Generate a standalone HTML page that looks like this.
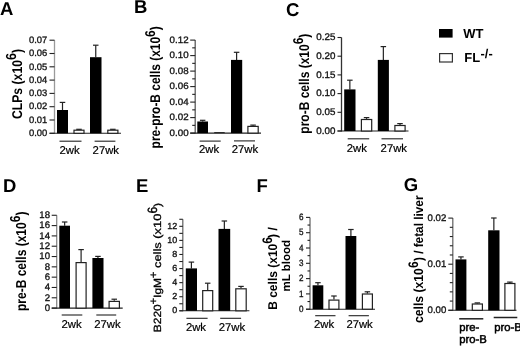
<!DOCTYPE html>
<html><head><meta charset="utf-8"><style>
html,body{margin:0;padding:0;background:#fff;}
svg{display:block;font-family:"Liberation Sans", sans-serif;font-kerning:none;will-change:transform;text-rendering:geometricPrecision;}
</style></head><body>
<svg width="520" height="346" viewBox="0 0 520 346">
<rect x="0" y="0" width="520" height="346" fill="#fff"/>
<text x="0.0" y="15.4" font-size="18.5" font-weight="700" text-anchor="start" fill="#000" >A</text>
<text x="133.9" y="12.7" font-size="18.5" font-weight="700" text-anchor="start" fill="#000" >B</text>
<text x="285.9" y="15.6" font-size="18.5" font-weight="700" text-anchor="start" fill="#000" >C</text>
<text x="3.0" y="192.1" font-size="18.5" font-weight="700" text-anchor="start" fill="#000" >D</text>
<text x="136.1" y="192.3" font-size="18.5" font-weight="700" text-anchor="start" fill="#000" >E</text>
<text x="256.5" y="192.3" font-size="18.5" font-weight="700" text-anchor="start" fill="#000" >F</text>
<text x="403.8" y="190.8" font-size="18.5" font-weight="700" text-anchor="start" fill="#000" >G</text>
<line x1="54.5" y1="40.2" x2="54.5" y2="133.8" stroke="#9a9a9a" stroke-width="1.3"/>
<line x1="49.5" y1="133.3" x2="121" y2="133.3" stroke="#222" stroke-width="1.1"/>
<line x1="49.5" y1="133.3" x2="54.5" y2="133.3" stroke="#222" stroke-width="1.1"/>
<text transform="translate(47.3,136.01) scale(1.0,1)" x="0" y="0" font-size="9.4" text-anchor="end" fill="#111" stroke="#111" stroke-width="0.32">0.00</text>
<line x1="49.5" y1="120.00000000000001" x2="54.5" y2="120.00000000000001" stroke="#222" stroke-width="1.1"/>
<text transform="translate(47.3,122.71) scale(1.0,1)" x="0" y="0" font-size="9.4" text-anchor="end" fill="#111" stroke="#111" stroke-width="0.32">0.01</text>
<line x1="49.5" y1="106.70000000000002" x2="54.5" y2="106.70000000000002" stroke="#222" stroke-width="1.1"/>
<text transform="translate(47.3,109.41) scale(1.0,1)" x="0" y="0" font-size="9.4" text-anchor="end" fill="#111" stroke="#111" stroke-width="0.32">0.02</text>
<line x1="49.5" y1="93.4" x2="54.5" y2="93.4" stroke="#222" stroke-width="1.1"/>
<text transform="translate(47.3,96.11) scale(1.0,1)" x="0" y="0" font-size="9.4" text-anchor="end" fill="#111" stroke="#111" stroke-width="0.32">0.03</text>
<line x1="49.5" y1="80.10000000000001" x2="54.5" y2="80.10000000000001" stroke="#222" stroke-width="1.1"/>
<text transform="translate(47.3,82.81) scale(1.0,1)" x="0" y="0" font-size="9.4" text-anchor="end" fill="#111" stroke="#111" stroke-width="0.32">0.04</text>
<line x1="49.5" y1="66.80000000000001" x2="54.5" y2="66.80000000000001" stroke="#222" stroke-width="1.1"/>
<text transform="translate(47.3,69.51) scale(1.0,1)" x="0" y="0" font-size="9.4" text-anchor="end" fill="#111" stroke="#111" stroke-width="0.32">0.05</text>
<line x1="49.5" y1="53.500000000000014" x2="54.5" y2="53.500000000000014" stroke="#222" stroke-width="1.1"/>
<text transform="translate(47.3,56.21) scale(1.0,1)" x="0" y="0" font-size="9.4" text-anchor="end" fill="#111" stroke="#111" stroke-width="0.32">0.06</text>
<line x1="49.5" y1="40.2" x2="54.5" y2="40.2" stroke="#222" stroke-width="1.1"/>
<text transform="translate(47.3,42.91) scale(1.0,1)" x="0" y="0" font-size="9.4" text-anchor="end" fill="#111" stroke="#111" stroke-width="0.32">0.07</text>
<line x1="62.5" y1="102.4" x2="62.5" y2="110" stroke="#222" stroke-width="1.2"/>
<line x1="59.75" y1="102.4" x2="65.25" y2="102.4" stroke="#222" stroke-width="1.2"/>
<rect x="57" y="110" width="11" height="23.30000000000001" fill="#000" stroke="none" stroke-width="0"/>
<line x1="79.0" y1="129.3" x2="79.0" y2="129.6" stroke="#222" stroke-width="1.2"/>
<line x1="76.25" y1="129.3" x2="81.75" y2="129.3" stroke="#222" stroke-width="1.2"/>
<rect x="74.0" y="130.2" width="9.99999999999999" height="3.100000000000017" fill="#fff" stroke="#222" stroke-width="1.2"/>
<line x1="95.75" y1="45.2" x2="95.75" y2="57.2" stroke="#222" stroke-width="1.2"/>
<line x1="93.0" y1="45.2" x2="98.5" y2="45.2" stroke="#222" stroke-width="1.2"/>
<rect x="90" y="57.2" width="11.5" height="76.10000000000001" fill="#000" stroke="none" stroke-width="0"/>
<line x1="112.85" y1="129.3" x2="112.85" y2="129.6" stroke="#222" stroke-width="1.2"/>
<line x1="110.1" y1="129.3" x2="115.6" y2="129.3" stroke="#222" stroke-width="1.2"/>
<rect x="107.8" y="130.2" width="10.099999999999998" height="3.100000000000017" fill="#fff" stroke="#222" stroke-width="1.2"/>
<line x1="59.5" y1="141.2" x2="81.5" y2="141.2" stroke="#222" stroke-width="1.1"/>
<text x="59.5" y="153.8" font-size="11.3" font-weight="400" text-anchor="start" fill="#000" stroke="#000" stroke-width="0.2">2wk</text>
<line x1="94.6" y1="141.2" x2="115.4" y2="141.2" stroke="#222" stroke-width="1.1"/>
<text x="92.6" y="153.8" font-size="11.3" font-weight="400" text-anchor="start" fill="#000" stroke="#000" stroke-width="0.2">27wk</text>
<text transform="translate(21.8,119.0) rotate(-90) scale(1,1.16)" x="0" y="0" font-size="12.2" font-weight="700" fill="#000">CLPs (x10<tspan dy="-5.0" font-size="12.5">6</tspan><tspan dy="5.0">)</tspan></text>
<line x1="195.2" y1="40.099999999999994" x2="195.2" y2="133.6" stroke="#5a5a5a" stroke-width="1.3"/>
<line x1="190.2" y1="133.1" x2="261" y2="133.1" stroke="#222" stroke-width="1.1"/>
<line x1="190.2" y1="133.1" x2="195.2" y2="133.1" stroke="#222" stroke-width="1.1"/>
<text transform="translate(188.6,135.81) scale(1.04,1)" x="0" y="0" font-size="9.4" text-anchor="end" fill="#111" stroke="#111" stroke-width="0.32">0.00</text>
<line x1="190.2" y1="117.6" x2="195.2" y2="117.6" stroke="#222" stroke-width="1.1"/>
<text transform="translate(188.6,120.31) scale(1.04,1)" x="0" y="0" font-size="9.4" text-anchor="end" fill="#111" stroke="#111" stroke-width="0.32">0.02</text>
<line x1="190.2" y1="102.1" x2="195.2" y2="102.1" stroke="#222" stroke-width="1.1"/>
<text transform="translate(188.6,104.81) scale(1.04,1)" x="0" y="0" font-size="9.4" text-anchor="end" fill="#111" stroke="#111" stroke-width="0.32">0.04</text>
<line x1="190.2" y1="86.6" x2="195.2" y2="86.6" stroke="#222" stroke-width="1.1"/>
<text transform="translate(188.6,89.31) scale(1.04,1)" x="0" y="0" font-size="9.4" text-anchor="end" fill="#111" stroke="#111" stroke-width="0.32">0.06</text>
<line x1="190.2" y1="71.1" x2="195.2" y2="71.1" stroke="#222" stroke-width="1.1"/>
<text transform="translate(188.6,73.81) scale(1.04,1)" x="0" y="0" font-size="9.4" text-anchor="end" fill="#111" stroke="#111" stroke-width="0.32">0.08</text>
<line x1="190.2" y1="55.599999999999994" x2="195.2" y2="55.599999999999994" stroke="#222" stroke-width="1.1"/>
<text transform="translate(188.6,58.31) scale(1.04,1)" x="0" y="0" font-size="9.4" text-anchor="end" fill="#111" stroke="#111" stroke-width="0.32">0.10</text>
<line x1="190.2" y1="40.099999999999994" x2="195.2" y2="40.099999999999994" stroke="#222" stroke-width="1.1"/>
<text transform="translate(188.6,42.81) scale(1.04,1)" x="0" y="0" font-size="9.4" text-anchor="end" fill="#111" stroke="#111" stroke-width="0.32">0.12</text>
<line x1="192.2" y1="125.35" x2="195.2" y2="125.35" stroke="#222" stroke-width="1.1"/>
<line x1="192.2" y1="109.85" x2="195.2" y2="109.85" stroke="#222" stroke-width="1.1"/>
<line x1="192.2" y1="94.35" x2="195.2" y2="94.35" stroke="#222" stroke-width="1.1"/>
<line x1="192.2" y1="78.85" x2="195.2" y2="78.85" stroke="#222" stroke-width="1.1"/>
<line x1="192.2" y1="63.349999999999994" x2="195.2" y2="63.349999999999994" stroke="#222" stroke-width="1.1"/>
<line x1="192.2" y1="47.849999999999994" x2="195.2" y2="47.849999999999994" stroke="#222" stroke-width="1.1"/>
<line x1="202.65" y1="120.3" x2="202.65" y2="121.5" stroke="#222" stroke-width="1.2"/>
<line x1="199.9" y1="120.3" x2="205.4" y2="120.3" stroke="#222" stroke-width="1.2"/>
<rect x="197.3" y="121.5" width="10.699999999999989" height="11.599999999999994" fill="#000" stroke="none" stroke-width="0"/>
<rect x="214.2" y="132.3" width="10.5" height="0.799999999999983" fill="#000" stroke="none" stroke-width="0"/>
<line x1="236.6" y1="52.3" x2="236.6" y2="59.9" stroke="#222" stroke-width="1.2"/>
<line x1="233.85" y1="52.3" x2="239.35" y2="52.3" stroke="#222" stroke-width="1.2"/>
<rect x="231" y="59.9" width="11.199999999999989" height="73.19999999999999" fill="#000" stroke="none" stroke-width="0"/>
<line x1="253.05" y1="125.1" x2="253.05" y2="125.8" stroke="#222" stroke-width="1.2"/>
<line x1="250.3" y1="125.1" x2="255.8" y2="125.1" stroke="#222" stroke-width="1.2"/>
<rect x="247.9" y="126.39999999999999" width="10.3" height="6.6999999999999975" fill="#fff" stroke="#222" stroke-width="1.2"/>
<line x1="199.6" y1="141.1" x2="220.7" y2="141.1" stroke="#222" stroke-width="1.1"/>
<text x="199.0" y="153.4" font-size="11.3" font-weight="400" text-anchor="start" fill="#000" stroke="#000" stroke-width="0.2">2wk</text>
<line x1="234" y1="140.9" x2="255" y2="140.9" stroke="#222" stroke-width="1.1"/>
<text x="231.8" y="153.4" font-size="11.3" font-weight="400" text-anchor="start" fill="#000" stroke="#000" stroke-width="0.2">27wk</text>
<text transform="translate(160.4,148.4) rotate(-90) scale(1,1.18)" x="0" y="0" font-size="11.95" font-weight="700" fill="#000">pre-pro-B cells (x10<tspan dy="-5.0" font-size="12">6</tspan><tspan dy="5.0">)</tspan></text>
<line x1="341.5" y1="37.5" x2="341.5" y2="131.5" stroke="#333" stroke-width="1.3"/>
<line x1="337.5" y1="131.0" x2="408.5" y2="131.0" stroke="#222" stroke-width="1.1"/>
<line x1="337.5" y1="131.0" x2="341.5" y2="131.0" stroke="#222" stroke-width="1.1"/>
<text transform="translate(335.4,133.78) scale(1.02,1)" x="0" y="0" font-size="9.6" text-anchor="end" fill="#111" stroke="#111" stroke-width="0.32">0.00</text>
<line x1="337.5" y1="112.3" x2="341.5" y2="112.3" stroke="#222" stroke-width="1.1"/>
<text transform="translate(335.4,115.08) scale(1.02,1)" x="0" y="0" font-size="9.6" text-anchor="end" fill="#111" stroke="#111" stroke-width="0.32">0.05</text>
<line x1="337.5" y1="93.6" x2="341.5" y2="93.6" stroke="#222" stroke-width="1.1"/>
<text transform="translate(335.4,96.38) scale(1.02,1)" x="0" y="0" font-size="9.6" text-anchor="end" fill="#111" stroke="#111" stroke-width="0.32">0.10</text>
<line x1="337.5" y1="74.89999999999999" x2="341.5" y2="74.89999999999999" stroke="#222" stroke-width="1.1"/>
<text transform="translate(335.4,77.68) scale(1.02,1)" x="0" y="0" font-size="9.6" text-anchor="end" fill="#111" stroke="#111" stroke-width="0.32">0.15</text>
<line x1="337.5" y1="56.2" x2="341.5" y2="56.2" stroke="#222" stroke-width="1.1"/>
<text transform="translate(335.4,58.98) scale(1.02,1)" x="0" y="0" font-size="9.6" text-anchor="end" fill="#111" stroke="#111" stroke-width="0.32">0.20</text>
<line x1="337.5" y1="37.5" x2="341.5" y2="37.5" stroke="#222" stroke-width="1.1"/>
<text transform="translate(335.4,40.28) scale(1.02,1)" x="0" y="0" font-size="9.6" text-anchor="end" fill="#111" stroke="#111" stroke-width="0.32">0.25</text>
<line x1="349.85" y1="80.2" x2="349.85" y2="89.4" stroke="#222" stroke-width="1.2"/>
<line x1="347.1" y1="80.2" x2="352.6" y2="80.2" stroke="#222" stroke-width="1.2"/>
<rect x="344.2" y="89.4" width="11.300000000000011" height="41.599999999999994" fill="#000" stroke="none" stroke-width="0"/>
<line x1="366.55" y1="117.6" x2="366.55" y2="118.9" stroke="#222" stroke-width="1.2"/>
<line x1="363.8" y1="117.6" x2="369.3" y2="117.6" stroke="#222" stroke-width="1.2"/>
<rect x="361.40000000000003" y="119.5" width="10.3" height="11.499999999999995" fill="#fff" stroke="#222" stroke-width="1.2"/>
<line x1="383.35" y1="46.6" x2="383.35" y2="59.9" stroke="#222" stroke-width="1.2"/>
<line x1="380.6" y1="46.6" x2="386.1" y2="46.6" stroke="#222" stroke-width="1.2"/>
<rect x="377.8" y="59.9" width="11.099999999999966" height="71.1" fill="#000" stroke="none" stroke-width="0"/>
<line x1="400.0" y1="123.6" x2="400.0" y2="124.9" stroke="#222" stroke-width="1.2"/>
<line x1="397.25" y1="123.6" x2="402.75" y2="123.6" stroke="#222" stroke-width="1.2"/>
<rect x="394.90000000000003" y="125.5" width="10.199999999999978" height="5.499999999999995" fill="#fff" stroke="#222" stroke-width="1.2"/>
<line x1="347.7" y1="138.8" x2="369.2" y2="138.8" stroke="#222" stroke-width="1.1"/>
<text x="346.7" y="151.5" font-size="11.3" font-weight="400" text-anchor="start" fill="#000" stroke="#000" stroke-width="0.2">2wk</text>
<line x1="381.5" y1="138.8" x2="403" y2="138.8" stroke="#222" stroke-width="1.1"/>
<text x="380.6" y="151.5" font-size="11.3" font-weight="400" text-anchor="start" fill="#000" stroke="#000" stroke-width="0.2">27wk</text>
<text transform="translate(309.4,133.7) rotate(-90) scale(1,1.18)" x="0" y="0" font-size="12" font-weight="700" fill="#000">pro-B cells (x10<tspan dy="-5.0" font-size="12">6</tspan><tspan dy="5.0">)</tspan></text>
<line x1="56.7" y1="215.27400000000003" x2="56.7" y2="308.6" stroke="#888" stroke-width="1.3"/>
<line x1="51.7" y1="308.1" x2="122.7" y2="308.1" stroke="#222" stroke-width="1.1"/>
<line x1="51.7" y1="308.1" x2="56.7" y2="308.1" stroke="#222" stroke-width="1.1"/>
<text transform="translate(50.0,310.88) scale(1.0,1)" x="0" y="0" font-size="9.6" text-anchor="end" fill="#111" stroke="#111" stroke-width="0.32">0</text>
<line x1="51.7" y1="297.786" x2="56.7" y2="297.786" stroke="#222" stroke-width="1.1"/>
<text transform="translate(50.0,300.57) scale(1.0,1)" x="0" y="0" font-size="9.6" text-anchor="end" fill="#111" stroke="#111" stroke-width="0.32">2</text>
<line x1="51.7" y1="287.47200000000004" x2="56.7" y2="287.47200000000004" stroke="#222" stroke-width="1.1"/>
<text transform="translate(50.0,290.25) scale(1.0,1)" x="0" y="0" font-size="9.6" text-anchor="end" fill="#111" stroke="#111" stroke-width="0.32">4</text>
<line x1="51.7" y1="277.158" x2="56.7" y2="277.158" stroke="#222" stroke-width="1.1"/>
<text transform="translate(50.0,279.94) scale(1.0,1)" x="0" y="0" font-size="9.6" text-anchor="end" fill="#111" stroke="#111" stroke-width="0.32">6</text>
<line x1="51.7" y1="266.84400000000005" x2="56.7" y2="266.84400000000005" stroke="#222" stroke-width="1.1"/>
<text transform="translate(50.0,269.62) scale(1.0,1)" x="0" y="0" font-size="9.6" text-anchor="end" fill="#111" stroke="#111" stroke-width="0.32">8</text>
<line x1="51.7" y1="256.53000000000003" x2="56.7" y2="256.53000000000003" stroke="#222" stroke-width="1.1"/>
<text transform="translate(50.0,259.31) scale(1.0,1)" x="0" y="0" font-size="9.6" text-anchor="end" fill="#111" stroke="#111" stroke-width="0.32">10</text>
<line x1="51.7" y1="246.216" x2="56.7" y2="246.216" stroke="#222" stroke-width="1.1"/>
<text transform="translate(50.0,249.00) scale(1.0,1)" x="0" y="0" font-size="9.6" text-anchor="end" fill="#111" stroke="#111" stroke-width="0.32">12</text>
<line x1="51.7" y1="235.90200000000002" x2="56.7" y2="235.90200000000002" stroke="#222" stroke-width="1.1"/>
<text transform="translate(50.0,238.68) scale(1.0,1)" x="0" y="0" font-size="9.6" text-anchor="end" fill="#111" stroke="#111" stroke-width="0.32">14</text>
<line x1="51.7" y1="225.58800000000002" x2="56.7" y2="225.58800000000002" stroke="#222" stroke-width="1.1"/>
<text transform="translate(50.0,228.37) scale(1.0,1)" x="0" y="0" font-size="9.6" text-anchor="end" fill="#111" stroke="#111" stroke-width="0.32">16</text>
<line x1="51.7" y1="215.27400000000003" x2="56.7" y2="215.27400000000003" stroke="#222" stroke-width="1.1"/>
<text transform="translate(50.0,218.05) scale(1.0,1)" x="0" y="0" font-size="9.6" text-anchor="end" fill="#111" stroke="#111" stroke-width="0.32">18</text>
<line x1="64.65" y1="222" x2="64.65" y2="225.7" stroke="#222" stroke-width="1.2"/>
<line x1="61.900000000000006" y1="222" x2="67.4" y2="222" stroke="#222" stroke-width="1.2"/>
<rect x="59.3" y="225.7" width="10.700000000000003" height="82.40000000000003" fill="#000" stroke="none" stroke-width="0"/>
<line x1="81.1" y1="249.6" x2="81.1" y2="262" stroke="#222" stroke-width="1.2"/>
<line x1="78.35" y1="249.6" x2="83.85" y2="249.6" stroke="#222" stroke-width="1.2"/>
<rect x="76.1" y="262.6" width="10.000000000000004" height="45.50000000000002" fill="#fff" stroke="#222" stroke-width="1.2"/>
<line x1="97.95" y1="256.4" x2="97.95" y2="258" stroke="#222" stroke-width="1.2"/>
<line x1="95.2" y1="256.4" x2="100.7" y2="256.4" stroke="#222" stroke-width="1.2"/>
<rect x="92.4" y="258" width="11.099999999999994" height="50.10000000000002" fill="#000" stroke="none" stroke-width="0"/>
<line x1="114.25" y1="299.2" x2="114.25" y2="300.8" stroke="#222" stroke-width="1.2"/>
<line x1="111.5" y1="299.2" x2="117.0" y2="299.2" stroke="#222" stroke-width="1.2"/>
<rect x="109.1" y="301.40000000000003" width="10.3" height="6.700000000000012" fill="#fff" stroke="#222" stroke-width="1.2"/>
<line x1="61.7" y1="315" x2="82.3" y2="315" stroke="#222" stroke-width="1.1"/>
<text x="61.5" y="327.7" font-size="11.3" font-weight="400" text-anchor="start" fill="#000" stroke="#000" stroke-width="0.2">2wk</text>
<line x1="96.3" y1="315" x2="116.2" y2="315" stroke="#222" stroke-width="1.1"/>
<text x="94.2" y="327.7" font-size="11.3" font-weight="400" text-anchor="start" fill="#000" stroke="#000" stroke-width="0.2">27wk</text>
<text transform="translate(26.2,311.0) rotate(-90) scale(1,1.2)" x="0" y="0" font-size="12" font-weight="700" fill="#000">pre-B cells (x10<tspan dy="-5.0" font-size="12">6</tspan><tspan dy="5.0">)</tspan></text>
<line x1="182.8" y1="219.28000000000003" x2="182.8" y2="311.3" stroke="#6a6a6a" stroke-width="1.3"/>
<line x1="179.3" y1="310.8" x2="249.4" y2="310.8" stroke="#222" stroke-width="1.1"/>
<line x1="179.3" y1="310.8" x2="182.8" y2="310.8" stroke="#222" stroke-width="1.1"/>
<text transform="translate(177.2,313.30) scale(1.02,1)" x="0" y="0" font-size="8.8" text-anchor="end" fill="#111" stroke="#111" stroke-width="0.32">0</text>
<line x1="179.3" y1="296.72" x2="182.8" y2="296.72" stroke="#222" stroke-width="1.1"/>
<text transform="translate(177.2,299.22) scale(1.02,1)" x="0" y="0" font-size="8.8" text-anchor="end" fill="#111" stroke="#111" stroke-width="0.32">2</text>
<line x1="179.3" y1="282.64" x2="182.8" y2="282.64" stroke="#222" stroke-width="1.1"/>
<text transform="translate(177.2,285.14) scale(1.02,1)" x="0" y="0" font-size="8.8" text-anchor="end" fill="#111" stroke="#111" stroke-width="0.32">4</text>
<line x1="179.3" y1="268.56" x2="182.8" y2="268.56" stroke="#222" stroke-width="1.1"/>
<text transform="translate(177.2,271.06) scale(1.02,1)" x="0" y="0" font-size="8.8" text-anchor="end" fill="#111" stroke="#111" stroke-width="0.32">6</text>
<line x1="179.3" y1="254.48000000000002" x2="182.8" y2="254.48000000000002" stroke="#222" stroke-width="1.1"/>
<text transform="translate(177.2,256.98) scale(1.02,1)" x="0" y="0" font-size="8.8" text-anchor="end" fill="#111" stroke="#111" stroke-width="0.32">8</text>
<line x1="179.3" y1="240.4" x2="182.8" y2="240.4" stroke="#222" stroke-width="1.1"/>
<text transform="translate(177.2,242.90) scale(1.02,1)" x="0" y="0" font-size="8.8" text-anchor="end" fill="#111" stroke="#111" stroke-width="0.32">10</text>
<line x1="179.3" y1="226.32" x2="182.8" y2="226.32" stroke="#222" stroke-width="1.1"/>
<text transform="translate(177.2,228.82) scale(1.02,1)" x="0" y="0" font-size="8.8" text-anchor="end" fill="#111" stroke="#111" stroke-width="0.32">12</text>
<line x1="179.3" y1="303.76" x2="182.8" y2="303.76" stroke="#222" stroke-width="1.1"/>
<line x1="179.3" y1="289.68" x2="182.8" y2="289.68" stroke="#222" stroke-width="1.1"/>
<line x1="179.3" y1="275.6" x2="182.8" y2="275.6" stroke="#222" stroke-width="1.1"/>
<line x1="179.3" y1="261.52" x2="182.8" y2="261.52" stroke="#222" stroke-width="1.1"/>
<line x1="179.3" y1="247.44" x2="182.8" y2="247.44" stroke="#222" stroke-width="1.1"/>
<line x1="179.3" y1="233.36" x2="182.8" y2="233.36" stroke="#222" stroke-width="1.1"/>
<line x1="179.3" y1="219.28000000000003" x2="182.8" y2="219.28000000000003" stroke="#222" stroke-width="1.1"/>
<line x1="191.4" y1="262.1" x2="191.4" y2="268.4" stroke="#222" stroke-width="1.2"/>
<line x1="188.65" y1="262.1" x2="194.15" y2="262.1" stroke="#222" stroke-width="1.2"/>
<rect x="185.8" y="268.4" width="11.199999999999989" height="42.400000000000034" fill="#000" stroke="none" stroke-width="0"/>
<line x1="207.7" y1="283.2" x2="207.7" y2="290" stroke="#222" stroke-width="1.2"/>
<line x1="204.95" y1="283.2" x2="210.45" y2="283.2" stroke="#222" stroke-width="1.2"/>
<rect x="202.7" y="290.6" width="10.000000000000018" height="20.20000000000001" fill="#fff" stroke="#222" stroke-width="1.2"/>
<line x1="224.35" y1="221" x2="224.35" y2="228.9" stroke="#222" stroke-width="1.2"/>
<line x1="221.6" y1="221" x2="227.1" y2="221" stroke="#222" stroke-width="1.2"/>
<rect x="218.5" y="228.9" width="11.699999999999989" height="81.9" fill="#000" stroke="none" stroke-width="0"/>
<line x1="241.0" y1="286.4" x2="241.0" y2="288.2" stroke="#222" stroke-width="1.2"/>
<line x1="238.25" y1="286.4" x2="243.75" y2="286.4" stroke="#222" stroke-width="1.2"/>
<rect x="235.79999999999998" y="288.8" width="10.400000000000023" height="22.00000000000002" fill="#fff" stroke="#222" stroke-width="1.2"/>
<line x1="186.4" y1="318.3" x2="207.6" y2="318.3" stroke="#222" stroke-width="1.1"/>
<text x="185.9" y="331.2" font-size="11.3" font-weight="400" text-anchor="start" fill="#000" stroke="#000" stroke-width="0.2">2wk</text>
<line x1="220.2" y1="318.3" x2="241.1" y2="318.3" stroke="#222" stroke-width="1.1"/>
<text x="218.8" y="331.2" font-size="11.3" font-weight="400" text-anchor="start" fill="#000" stroke="#000" stroke-width="0.2">27wk</text>
<text transform="translate(161.30,332.30) rotate(-90) scale(1,0.87)" x="0" y="0" font-size="12.0" font-weight="400" fill="#000" stroke="#000" stroke-width="0.35">B220</text>
<text transform="translate(157.00,304.27) rotate(-90) scale(1,1.0)" x="0" y="0" font-size="11" font-weight="400" fill="#000" stroke="#000" stroke-width="0.35">+</text>
<text transform="translate(161.30,297.95) rotate(-90) scale(1,0.87)" x="0" y="0" font-size="12.0" font-weight="400" fill="#000" stroke="#000" stroke-width="0.35">IgM</text>
<text transform="translate(157.00,277.95) rotate(-90) scale(1,1.0)" x="0" y="0" font-size="11" font-weight="400" fill="#000" stroke="#000" stroke-width="0.35">+</text>
<text transform="translate(161.30,271.62) rotate(-90) scale(1,0.82)" x="0" y="0" font-size="12.9" font-weight="400" fill="#000" stroke="#000" stroke-width="0.35">&#160;cells&#160;(x10</text>
<text transform="translate(156.70,213.55) rotate(-90) scale(1,1.12)" x="0" y="0" font-size="12" font-weight="400" fill="#000" stroke="#000" stroke-width="0.35">6</text>
<text transform="translate(161.30,206.88) rotate(-90) scale(1,0.86)" x="0" y="0" font-size="12" font-weight="400" fill="#000" stroke="#000" stroke-width="0.35">)</text>
<line x1="310.0" y1="217.39999999999998" x2="310.0" y2="309.7" stroke="#6a6a6a" stroke-width="1.3"/>
<line x1="306.0" y1="309.2" x2="375" y2="309.2" stroke="#222" stroke-width="1.1"/>
<line x1="306.0" y1="309.2" x2="310.0" y2="309.2" stroke="#222" stroke-width="1.1"/>
<text transform="translate(303.6,311.84) scale(0.88,1)" x="0" y="0" font-size="9.2" text-anchor="end" fill="#111" stroke="#111" stroke-width="0.32">0</text>
<line x1="306.0" y1="293.9" x2="310.0" y2="293.9" stroke="#222" stroke-width="1.1"/>
<text transform="translate(303.6,296.54) scale(0.88,1)" x="0" y="0" font-size="9.2" text-anchor="end" fill="#111" stroke="#111" stroke-width="0.32">1</text>
<line x1="306.0" y1="278.59999999999997" x2="310.0" y2="278.59999999999997" stroke="#222" stroke-width="1.1"/>
<text transform="translate(303.6,281.24) scale(0.88,1)" x="0" y="0" font-size="9.2" text-anchor="end" fill="#111" stroke="#111" stroke-width="0.32">2</text>
<line x1="306.0" y1="263.29999999999995" x2="310.0" y2="263.29999999999995" stroke="#222" stroke-width="1.1"/>
<text transform="translate(303.6,265.94) scale(0.88,1)" x="0" y="0" font-size="9.2" text-anchor="end" fill="#111" stroke="#111" stroke-width="0.32">3</text>
<line x1="306.0" y1="248.0" x2="310.0" y2="248.0" stroke="#222" stroke-width="1.1"/>
<text transform="translate(303.6,250.64) scale(0.88,1)" x="0" y="0" font-size="9.2" text-anchor="end" fill="#111" stroke="#111" stroke-width="0.32">4</text>
<line x1="306.0" y1="232.7" x2="310.0" y2="232.7" stroke="#222" stroke-width="1.1"/>
<text transform="translate(303.6,235.34) scale(0.88,1)" x="0" y="0" font-size="9.2" text-anchor="end" fill="#111" stroke="#111" stroke-width="0.32">5</text>
<line x1="306.0" y1="217.39999999999998" x2="310.0" y2="217.39999999999998" stroke="#222" stroke-width="1.1"/>
<text transform="translate(303.6,220.04) scale(0.88,1)" x="0" y="0" font-size="9.2" text-anchor="end" fill="#111" stroke="#111" stroke-width="0.32">6</text>
<line x1="307.5" y1="301.55" x2="310.0" y2="301.55" stroke="#222" stroke-width="1.1"/>
<line x1="307.5" y1="286.25" x2="310.0" y2="286.25" stroke="#222" stroke-width="1.1"/>
<line x1="307.5" y1="270.95" x2="310.0" y2="270.95" stroke="#222" stroke-width="1.1"/>
<line x1="307.5" y1="255.64999999999998" x2="310.0" y2="255.64999999999998" stroke="#222" stroke-width="1.1"/>
<line x1="307.5" y1="240.34999999999997" x2="310.0" y2="240.34999999999997" stroke="#222" stroke-width="1.1"/>
<line x1="307.5" y1="225.04999999999998" x2="310.0" y2="225.04999999999998" stroke="#222" stroke-width="1.1"/>
<line x1="317.95000000000005" y1="282.7" x2="317.95000000000005" y2="285.3" stroke="#222" stroke-width="1.2"/>
<line x1="315.20000000000005" y1="282.7" x2="320.70000000000005" y2="282.7" stroke="#222" stroke-width="1.2"/>
<rect x="312.6" y="285.3" width="10.699999999999989" height="23.899999999999977" fill="#000" stroke="none" stroke-width="0"/>
<line x1="333.95" y1="296" x2="333.95" y2="299.5" stroke="#222" stroke-width="1.2"/>
<line x1="331.2" y1="296" x2="336.7" y2="296" stroke="#222" stroke-width="1.2"/>
<rect x="329.0" y="300.1" width="9.900000000000023" height="9.099999999999989" fill="#fff" stroke="#222" stroke-width="1.2"/>
<line x1="350.9" y1="229.5" x2="350.9" y2="236" stroke="#222" stroke-width="1.2"/>
<line x1="348.15" y1="229.5" x2="353.65" y2="229.5" stroke="#222" stroke-width="1.2"/>
<rect x="345.5" y="236" width="10.800000000000011" height="73.19999999999999" fill="#000" stroke="none" stroke-width="0"/>
<line x1="367.4" y1="291.8" x2="367.4" y2="293.4" stroke="#222" stroke-width="1.2"/>
<line x1="364.65" y1="291.8" x2="370.15" y2="291.8" stroke="#222" stroke-width="1.2"/>
<rect x="362.40000000000003" y="294.0" width="9.99999999999999" height="15.200000000000012" fill="#fff" stroke="#222" stroke-width="1.2"/>
<line x1="315.2" y1="315.7" x2="335.5" y2="315.7" stroke="#222" stroke-width="1.1"/>
<text x="314.0" y="327.8" font-size="11.3" font-weight="400" text-anchor="start" fill="#000" stroke="#000" stroke-width="0.2">2wk</text>
<line x1="348.6" y1="315.7" x2="368.9" y2="315.7" stroke="#222" stroke-width="1.1"/>
<text x="346.4" y="327.8" font-size="11.3" font-weight="400" text-anchor="start" fill="#000" stroke="#000" stroke-width="0.2">27wk</text>
<text transform="translate(277.30,309.80) rotate(-90) scale(1,1.06)" x="0" y="0" font-size="12" font-weight="700" fill="#000">B&#160;cells&#160;(x10</text>
<text transform="translate(272.30,243.76) rotate(-90) scale(1,1.15)" x="0" y="0" font-size="12" font-weight="700" fill="#000">6</text>
<text transform="translate(277.30,237.89) rotate(-90) scale(1,1.06)" x="0" y="0" font-size="12" font-weight="700" fill="#000">)&#160;/</text>
<text transform="translate(289.5,291.6) rotate(-90) scale(1,1.0)" x="0" y="0" font-size="11.5" font-weight="700" fill="#000">mL blood</text>
<line x1="452.8" y1="218.10000000000002" x2="452.8" y2="310.8" stroke="#6a6a6a" stroke-width="1.3"/>
<line x1="448.3" y1="310.3" x2="516.5" y2="310.3" stroke="#222" stroke-width="1.1"/>
<line x1="448.3" y1="310.3" x2="452.8" y2="310.3" stroke="#222" stroke-width="1.1"/>
<text transform="translate(446.3,313.08) scale(1.0,1)" x="0" y="0" font-size="9.6" text-anchor="end" fill="#111" stroke="#111" stroke-width="0.32">0.00</text>
<line x1="448.3" y1="264.2" x2="452.8" y2="264.2" stroke="#222" stroke-width="1.1"/>
<text transform="translate(446.3,266.98) scale(1.0,1)" x="0" y="0" font-size="9.6" text-anchor="end" fill="#111" stroke="#111" stroke-width="0.32">0.01</text>
<line x1="448.3" y1="218.10000000000002" x2="452.8" y2="218.10000000000002" stroke="#222" stroke-width="1.1"/>
<text transform="translate(446.3,220.88) scale(1.0,1)" x="0" y="0" font-size="9.6" text-anchor="end" fill="#111" stroke="#111" stroke-width="0.32">0.02</text>
<line x1="449.8" y1="301.08" x2="452.8" y2="301.08" stroke="#222" stroke-width="1.1"/>
<line x1="449.8" y1="291.86" x2="452.8" y2="291.86" stroke="#222" stroke-width="1.1"/>
<line x1="449.8" y1="282.64" x2="452.8" y2="282.64" stroke="#222" stroke-width="1.1"/>
<line x1="449.8" y1="273.42" x2="452.8" y2="273.42" stroke="#222" stroke-width="1.1"/>
<line x1="449.8" y1="254.98000000000002" x2="452.8" y2="254.98000000000002" stroke="#222" stroke-width="1.1"/>
<line x1="449.8" y1="245.76" x2="452.8" y2="245.76" stroke="#222" stroke-width="1.1"/>
<line x1="449.8" y1="236.54000000000002" x2="452.8" y2="236.54000000000002" stroke="#222" stroke-width="1.1"/>
<line x1="449.8" y1="227.32" x2="452.8" y2="227.32" stroke="#222" stroke-width="1.1"/>
<line x1="460.95" y1="256.9" x2="460.95" y2="259.4" stroke="#222" stroke-width="1.2"/>
<line x1="458.2" y1="256.9" x2="463.7" y2="256.9" stroke="#222" stroke-width="1.2"/>
<rect x="455.5" y="259.4" width="10.899999999999977" height="50.900000000000034" fill="#000" stroke="none" stroke-width="0"/>
<line x1="477.35" y1="302.9" x2="477.35" y2="303.4" stroke="#222" stroke-width="1.2"/>
<line x1="474.6" y1="302.9" x2="480.1" y2="302.9" stroke="#222" stroke-width="1.2"/>
<rect x="472.3" y="304.0" width="10.100000000000012" height="6.3000000000000345" fill="#fff" stroke="#222" stroke-width="1.2"/>
<line x1="493.85" y1="218" x2="493.85" y2="230.3" stroke="#222" stroke-width="1.2"/>
<line x1="491.1" y1="218" x2="496.6" y2="218" stroke="#222" stroke-width="1.2"/>
<rect x="488.2" y="230.3" width="11.300000000000011" height="80.0" fill="#000" stroke="none" stroke-width="0"/>
<line x1="509.9" y1="282.1" x2="509.9" y2="282.9" stroke="#222" stroke-width="1.2"/>
<line x1="507.15" y1="282.1" x2="512.65" y2="282.1" stroke="#222" stroke-width="1.2"/>
<rect x="504.90000000000003" y="283.5" width="9.99999999999999" height="26.800000000000033" fill="#fff" stroke="#222" stroke-width="1.2"/>
<line x1="459.2" y1="318.8" x2="483.3" y2="318.8" stroke="#222" stroke-width="1.5"/>
<text x="459.2" y="330.7" font-size="11.3" font-weight="400" text-anchor="start" fill="#000" stroke="#000" stroke-width="0.5">pre-</text>
<line x1="493.7" y1="317.5" x2="517.3" y2="317.5" stroke="#222" stroke-width="1.5"/>
<text x="494.2" y="330.7" font-size="11.3" font-weight="400" text-anchor="start" fill="#000" stroke="#000" stroke-width="0.5">pro-B</text>
<text x="459.2" y="343.3" font-size="11.3" font-weight="400" text-anchor="start" fill="#000" stroke="#000" stroke-width="0.5">pro-B</text>
<text transform="translate(423.00,323.00) rotate(-90) scale(1,1.08)" x="0" y="0" font-size="12.2" font-weight="700" fill="#000">cells&#160;(x10</text>
<text transform="translate(417.70,268.06) rotate(-90) scale(1,1.15)" x="0" y="0" font-size="12" font-weight="700" fill="#000">6</text>
<text transform="translate(423.00,261.08) rotate(-90) scale(1,1.08)" x="0" y="0" font-size="11.8" font-weight="700" fill="#000">)&#160;/&#160;fetal&#160;liver</text>
<rect x="439" y="29" width="13.6" height="8.6" fill="#000" stroke="none" stroke-width="0"/>
<rect x="439.6" y="53.6" width="12.8" height="8.4" fill="#fff" stroke="#333" stroke-width="1.2"/>
<text x="463.2" y="38" font-size="13" font-weight="700" text-anchor="start" fill="#000" >WT</text>
<text x="464.3" y="62.3" font-size="13" font-weight="700" text-anchor="start" fill="#000" >FL</text>
<text x="480.6" y="57.6" font-size="12.8" font-weight="700" text-anchor="start" fill="#000" >-/-</text>
</svg>
</body></html>
